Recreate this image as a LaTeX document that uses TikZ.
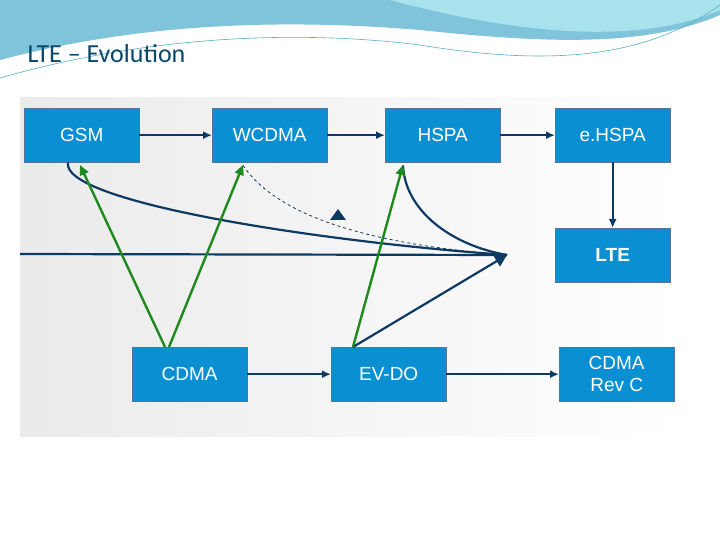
\documentclass[tikz,border=0pt]{standalone}
\usepackage{fontspec}
\setmainfont{Liberation Sans}
\newfontfamily\titlefont{Carlito}
\usetikzlibrary{arrows.meta,shadings}
\definecolor{boxblue}{HTML}{0A8FD3}
\definecolor{navy}{HTML}{0D3A63}
\definecolor{grn}{HTML}{1E8A1E}
\definecolor{wave1}{HTML}{7FC4DA}
\definecolor{wave2}{HTML}{A8E2EC}
\tikzset{
 box/.style={draw=navy!70,fill=boxblue,text=white,minimum width=115pt,minimum height=54pt,inner sep=0pt,font=\fontsize{19}{22}\selectfont,align=center,anchor=north west},
 flow/.style={draw=navy,line width=1.8pt,-{Latex[length=9pt,width=8pt]}},
 nav/.style={draw=navy,line width=2.2pt},
 gr/.style={draw=grn,line width=2.4pt,-{Triangle[length=10pt,width=9pt]}}
}
\begin{document}
\begin{tikzpicture}[x=1pt,y=-1pt]
\useasboundingbox (0,0) rectangle (720,540);
\fill[white] (0,0) rectangle (720,540);
% header wave
\fill[wave1] (0,0) -- (720,0) -- (720,15) .. controls (650,45) and (560,45) .. (420,30) .. controls (300,20) and (150,20) .. (0,60) -- cycle;
\fill[wave2] (390,0) -- (720,0) -- (720,10) .. controls (640,45) and (520,35) .. (390,0) -- cycle;
\draw[wave1!70!teal,line width=0.6pt] (0,78) .. controls (150,35) and (300,30) .. (420,45) .. controls (560,68) and (650,55) .. (720,5);
\node[anchor=west,text=navy!80!teal,font=\titlefont\fontsize{26}{28}\selectfont] (title) at (24,54) {LTE – Evolution};
% panel
\shade[left color=black!8,right color=white] (20,98) rectangle (680,436);
\node[box] (gsm) at (24,108) {GSM};
\node[box] (wcdma) at (212,108) {WCDMA};
\node[box] (hspa) at (385,108) {HSPA};
\node[box] (ehspa) at (555,108) {e.HSPA};
\node[box] (lte) at (555,228) {\textbf{LTE}};
\node[box] (cdma) at (132,347) {CDMA};
\node[box] (evdo) at (331,347) {EV-DO};
\node[box] (revc) at (559,347) {CDMA\\Rev C};
\draw[flow] (gsm) -- (wcdma);
\draw[flow] (wcdma) -- (hspa);
\draw[flow] (hspa) -- (ehspa);
\draw[flow] (ehspa) -- (lte);
\draw[flow] (cdma) -- (evdo);
\draw[flow] (evdo) -- (revc);
\coordinate (tip) at (507,255);
\coordinate (lstart) at (20,254);
\draw[nav] (lstart) -- (tip);
\draw[nav] (gsm.south west) ++(44,0) .. controls (60,200) and (300,240) .. (tip);
\draw[navy,line width=0.8pt,dashed] (wcdma.south west) ++(31,3) .. controls (280,220) and (380,245) .. (tip);
\draw[nav] (hspa.south west) ++(18,3) .. controls (405,210) and (450,245) .. (tip);
\draw[nav,-{Triangle[length=12pt,width=12pt]}] (evdo.north west) ++(22,0) -- (tip);
\fill[navy] (338,209) -- (346,220) -- (330,220) -- cycle;
\draw[gr] (cdma.north west) ++(33,0) -- (80,165);
\draw[gr] (cdma.north west) ++(37,0) -- (243,165);
\draw[gr] (evdo.north west) ++(22,0) -- (403,165);
\end{tikzpicture}
\end{document}
